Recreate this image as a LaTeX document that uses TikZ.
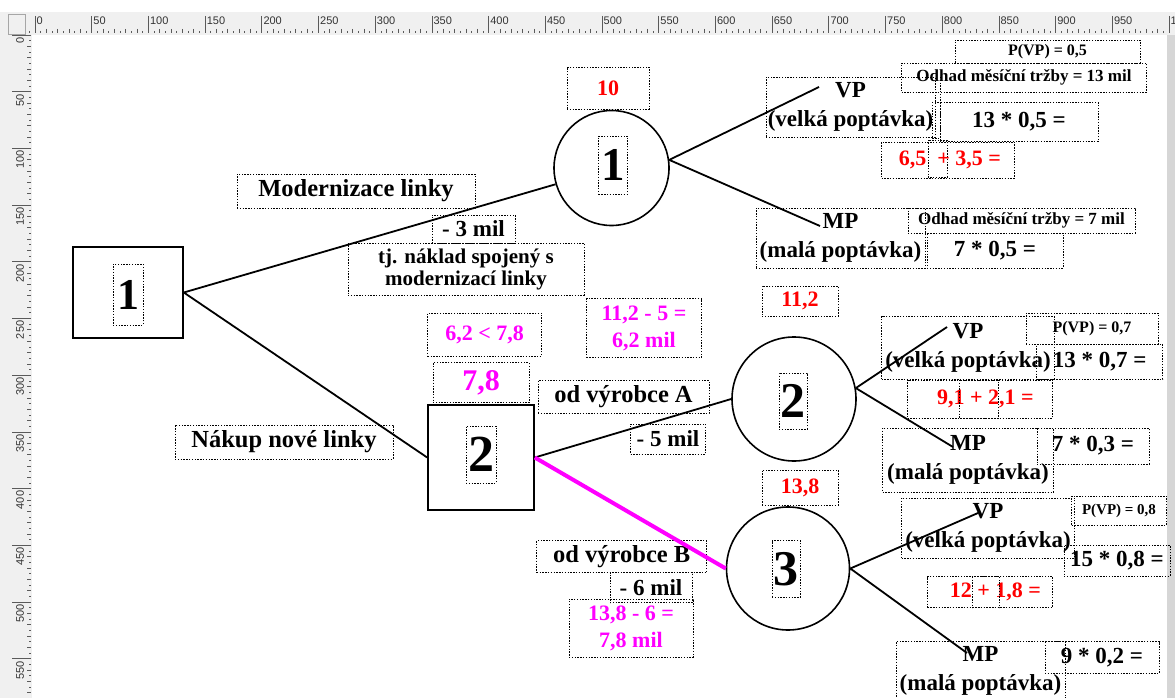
\documentclass[tikz,border=0pt]{standalone}
\usepackage{fontspec}
\setmainfont{Liberation Serif}
\newfontfamily\rulerfont{Liberation Sans}
\usepackage{xcolor}
\usetikzlibrary{positioning, calc}
\definecolor{rulergray}{RGB}{240,240,240}
\definecolor{edgegray}{RGB}{214,214,214}
\definecolor{tickgray}{RGB}{90,90,90}
\definecolor{pink}{RGB}{255,0,255}

\begin{document}
\begin{tikzpicture}[x=1pt, y=-1pt,
  dotbox/.style={draw, line width=0.8pt, dash pattern=on 1.4pt off 1.4pt, inner sep=0pt, align=center},
  lblhuge/.style={font=\bfseries\fontsize{24.5}{29}\selectfont},
  lblbig/.style={font=\bfseries\fontsize{23}{29}\selectfont},
  lblmid/.style={font=\bfseries\fontsize{21}{22}\selectfont},
  lblsmall/.style={font=\bfseries\fontsize{16}{18}\selectfont},
  calcred/.style={font=\bfseries\fontsize{22}{27}\selectfont, text=red},
  calcmag/.style={font=\bfseries\fontsize{22}{27}\selectfont, text=pink},
  decision/.style={draw, line width=1.6pt, inner sep=0pt},
  chance/.style={draw, circle, line width=1.6pt, minimum size=#1, inner sep=0pt},
  branch/.style={line width=1.8pt},
  best/.style={line width=4pt, pink},
  rulerlbl/.style={font=\rulerfont\fontsize{11}{11}\selectfont, text=black!80, inner sep=0pt},
]
  \useasboundingbox (0,0) rectangle (1175,698);

  % Rulers and canvas
  \begin{scope}
    \clip (0,0) rectangle (1175,698);
    \fill[white] (0,0) rectangle (1175,698);
    \fill[rulergray] (0,12) rectangle (1175,35);
    \fill[rulergray] (0,35) rectangle (32,698);
    \fill[edgegray] (1167,35) rectangle (1175,698);
    \draw[gray!70, fill=rulergray] (8,14) rectangle (25,34);
    \foreach \v in {0,50,...,950} {
      \draw[tickgray, line width=0.7pt] ({35+1.134*\v},16) -- ({35+1.134*\v},33);
      \node[rulerlbl, anchor=north west] at ({36.5+1.134*\v},17) {\v};
    }
    \draw[tickgray, line width=0.7pt] (1169,16) -- (1169,33);
    \node[rulerlbl, anchor=north west] at (1170.5,17) {1};
    \foreach \v in {-5,5,...,995}
      \draw[tickgray, line width=0.7pt] ({35+1.134*\v},31) -- ++(0,2);
    \foreach \v in {10,20,...,990}
      \draw[tickgray, line width=0.7pt] ({35+1.134*\v},29) -- ++(0,4);
    \foreach \v in {0,50,...,550} {
      \draw[tickgray, line width=0.7pt] (12,{35+1.134*\v}) -- (31,{35+1.134*\v});
      \node[rulerlbl, rotate=90, anchor=east] at (20,{37+1.134*\v}) {\v};
    }
    \foreach \v in {5,15,...,605}
      \draw[tickgray, line width=0.7pt] (29,{35+1.134*\v}) -- ++(2,0);
    \foreach \v in {10,20,...,600}
      \draw[tickgray, line width=0.7pt] (27,{35+1.134*\v}) -- ++(4,0);
  \end{scope}

  % Decision and chance nodes
  \node[decision, minimum width=110, minimum height=91] (sq1) at (128,292.5) {};
  \node[dotbox, font=\bfseries\fontsize{44}{44}\selectfont, minimum width=30, minimum height=61] (n1) at (128,294.5) {1};
  \node[decision, minimum width=106, minimum height=105] (sq2) at (481,457.5) {};
  \node[dotbox, font=\bfseries\fontsize{52}{52}\selectfont, minimum width=30, minimum height=57] (n2) at (481,454.5) {2};
  \node[chance=115] (c1) at (611.5,168) {};
  \node[dotbox, font=\bfseries\fontsize{47}{47}\selectfont, minimum width=29, minimum height=58] (k1) at (613,165) {1};
  \node[chance=124] (c2) at (794,399) {};
  \node[dotbox, font=\bfseries\fontsize{50}{50}\selectfont, minimum width=28, minimum height=56] (k2) at (793,401) {2};
  \node[chance=123] (c3) at (788,568.5) {};
  \node[dotbox, font=\bfseries\fontsize{50}{50}\selectfont, minimum width=28, minimum height=57] (k3) at (786,569) {3};

  % Branch labels
  \node[dotbox, lblhuge, minimum width=238, minimum height=34] (mod) at (356,191) {Modernizace linky};
  \node[dotbox, lblbig, minimum width=83, minimum height=28] (cost3) at (473.5,229) {- 3 mil};
  \node[dotbox, lblmid, minimum width=236, minimum height=52] (note) at (466,269) {tj. náklad spojený s\\modernizací linky};
  \node[dotbox, lblhuge, minimum width=218, minimum height=34] (buy) at (284,442) {Nákup nové linky};
  \node[dotbox, lblhuge, minimum width=171, minimum height=33] (odA) at (623.5,397) {od výrobce A};
  \node[dotbox, lblbig, minimum width=75, minimum height=30] (cost5) at (668,439) {- 5 mil};
  \node[dotbox, lblhuge, minimum width=170, minimum height=32] (odB) at (621.7,556.7) {od výrobce B};
  \node[dotbox, lblbig, minimum width=82, minimum height=30] (cost6) at (651,587.5) {- 6 mil};

  % Values
  \node[dotbox, calcred, minimum width=82, minimum height=42] (v10) at (608,88) {10};
  \node[dotbox, calcred, minimum width=76, minimum height=30] (v112) at (800,301) {11,2};
  \node[dotbox, calcred, minimum width=76, minimum height=35] (v138) at (800,487.5) {13,8};
  \node[dotbox, calcmag, minimum width=114, minimum height=43] (cmp) at (484.7,334.5) {6,2 < 7,8};
  \node[dotbox, font=\bfseries\fontsize{30}{30}\selectfont, text=pink, minimum width=96, minimum height=40] (v78) at (481,382.7) {7,8};
  \node[dotbox, calcmag, minimum width=115, minimum height=59] (resA) at (644,328) {11,2 - 5 =\\6,2 mil};
  \node[dotbox, calcmag, minimum width=124, minimum height=58] (resB) at (631,628) {13,8 - 6 =\\7,8 mil};

  % Outcomes of chance node 1
  \node[dotbox, lblbig, minimum width=169, minimum height=60] (vp1) at (850.5,107) {VP\\(velká poptávka)};
  \node[dotbox, lblbig, minimum width=169, minimum height=60] (mp1) at (840.5,238) {MP\\(malá poptávka)};
  \node[dotbox, lblsmall, minimum width=185, minimum height=23] (p05) at (1047.5,51.5) {P(VP) = 0,5};
  \node[dotbox, font=\bfseries\fontsize{17}{19}\selectfont, minimum width=245, minimum height=29] (est13) at (1024,77.5) {Odhad měsíční tržby = 13 mil};
  \node[dotbox, lblbig, minimum width=158, minimum height=39] (e13) at (1019,122) {13 * 0,5 =};
  \node[dotbox, calcred, minimum width=133, minimum height=36] (s1) at (948,160) {\,6,5\ \ + 3,5 =};
  \node[dotbox, font=\bfseries\fontsize{17}{19}\selectfont, minimum width=227, minimum height=25] (est7) at (1021.5,220.5) {Odhad měsíční tržby = 7 mil};
  \node[dotbox, lblbig, minimum width=136, minimum height=35] (e7) at (995,250.5) {7 * 0,5 =};
  \draw[dotbox] (932,102) rectangle (940,138);
  \draw[dotbox] (940,77) -- (940,102);
  \draw[dotbox] (928,140) rectangle (947,177);

  % Outcomes of chance node 2
  \node[dotbox, lblbig, minimum width=173, minimum height=63] (vp2) at (968,348) {VP\\(velká poptávka)};
  \node[dotbox, lblbig, minimum width=171, minimum height=64] (mp2) at (968,460) {MP\\(malá poptávka)};
  \node[dotbox, lblsmall, minimum width=132, minimum height=31] (p07) at (1092,328.5) {P(VP) = 0,7};
  \node[dotbox, lblbig, minimum width=126, minimum height=35] (e137) at (1099.7,361.7) {13 * 0,7 =};
  \node[dotbox, calcred, minimum width=145, minimum height=38] (s2) at (980,399) {\ \ 9,1 + 2,1 =};
  \node[dotbox, lblbig, minimum width=112, minimum height=36] (e73) at (1093,446) {7 * 0,3 =};
  \draw[dotbox] (959,380) rectangle (998,418);

  % Outcomes of chance node 3
  \node[dotbox, lblbig, minimum width=173, minimum height=60] (vp3) at (988,528) {VP\\(velká poptávka)};
  \node[dotbox, lblbig, minimum width=169, minimum height=59] (mp3) at (980.5,671) {MP\\(malá poptávka)};
  \node[dotbox, font=\bfseries\fontsize{15}{17}\selectfont, minimum width=95, minimum height=29] (p08) at (1119,510.5) {P(VP) = 0,8};
  \node[dotbox, lblbig, minimum width=106, minimum height=31] (e158) at (1117,560.5) {15 * 0,8 =};
  \node[dotbox, calcred, minimum width=125, minimum height=31] (s3) at (990,592) {\ \ 12 + 1,8 =};
  \node[dotbox, lblbig, minimum width=114, minimum height=32] (e92) at (1102,657.5) {9 * 0,2 =};
  \draw[dotbox] (972.7,576.7) rectangle (999,607.7);

  % Free ends of the outcome branches
  \coordinate (vp1e) at (819,87);
  \coordinate (mp1e) at (820,226);
  \coordinate (vp2e) at (947,327);
  \coordinate (mp2e) at (953,447);
  \coordinate (vp3e) at (978,513);
  \coordinate (mp3e) at (967,653);

  % Branches
  \draw[branch] (sq1.east) -- (c1);
  \draw[branch] (sq1.east) -- (sq2.west);
  \draw[branch] (sq2.east) -- (c2.west);
  \draw[best] (sq2.east) -- (c3.west);
  \draw[branch] (c1.8) -- (vp1e);
  \draw[branch] (c1.8) -- (mp1e);
  \draw[branch] (c2.10) -- (vp2e);
  \draw[branch] (c2.10) -- (mp2e);
  \draw[branch] (c3.east) -- (vp3e);
  \draw[branch] (c3.east) -- (mp3e);
\end{tikzpicture}
\end{document}
